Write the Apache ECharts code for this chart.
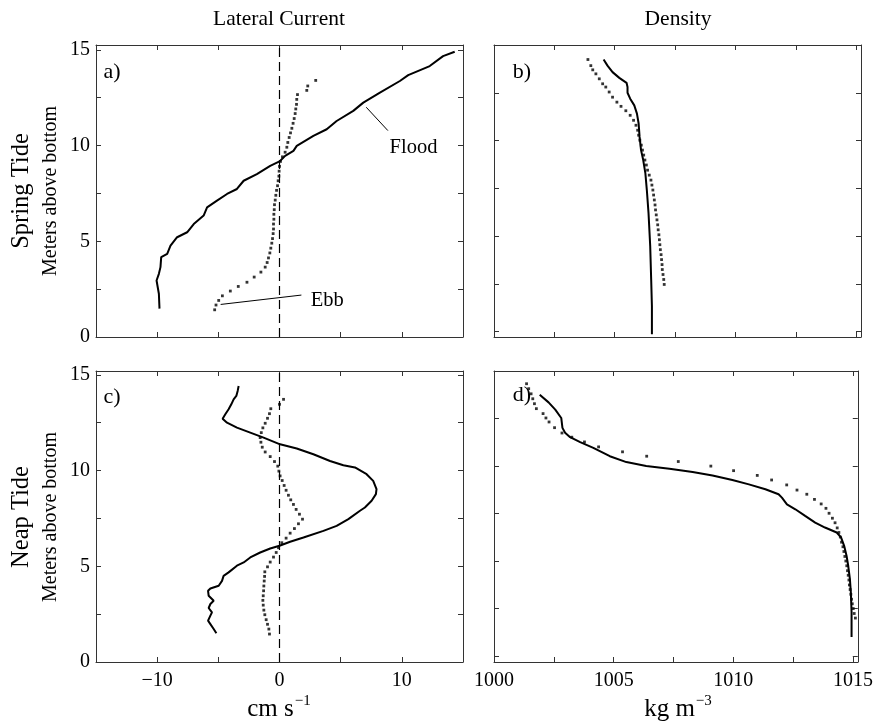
<!DOCTYPE html>
<html>
<head>
<meta charset="utf-8">
<script src="https://cdn.jsdelivr.net/npm/echarts@6/dist/echarts.min.js"></script>
<style>
html,body{margin:0;padding:0;background:#fff;}
#chart{width:876px;height:723px;}
</style>
</head>
<body>
<div id="chart"></div>
<script>
// ---------- DATA ----------
// [lateral current (cm/s), meters above bottom]
const springFlood = [[-9.81,1.48],[-9.86,2.26],[-10.05,2.95],[-9.86,3.30],[-9.73,3.65],[-9.67,4.17],[-9.18,4.34],[-8.91,4.77],[-8.37,5.21],[-7.55,5.47],[-7.01,5.90],[-6.20,6.34],[-5.92,6.77],[-5.11,7.12],[-4.29,7.47],[-3.48,7.73],[-2.93,8.16],[-1.85,8.51],[-0.76,8.94],[0.0,9.17],[0.46,9.46],[1.14,9.72],[1.41,9.98],[2.77,10.50],[3.86,10.85],[4.67,11.28],[6.03,11.81],[6.85,12.24],[8.21,12.76],[9.84,13.37],[10.52,13.68],[12.28,14.15],[13.37,14.67],[14.32,14.90]];
const springEbb = [[-5.30,1.42],[-5.19,1.67],[-4.97,1.91],[-4.67,2.15],[-4.02,2.40],[-3.37,2.64],[-2.66,2.86],[-2.07,3.13],[-1.52,3.39],[-1.17,3.65],[-1.01,3.89],[-0.90,4.13],[-0.79,4.39],[-0.71,4.64],[-0.63,4.90],[-0.57,5.14],[-0.52,5.40],[-0.49,5.64],[-0.49,5.90],[-0.46,6.15],[-0.46,6.41],[-0.43,6.65],[-0.41,6.91],[-0.35,7.15],[-0.30,7.40],[-0.24,7.66],[-0.16,7.90],[-0.11,8.16],[-0.05,8.40],[-0.03,8.66],[0.0,8.91],[0.08,9.17],[0.24,9.41],[0.46,9.65],[0.60,9.91],[0.68,10.16],[0.79,10.42],[0.90,10.66],[1.01,10.90],[1.11,11.16],[1.20,11.41],[1.28,11.67],[1.33,11.91],[1.39,12.15],[1.41,12.41],[1.47,12.66],[2.23,12.88],[2.31,13.11],[2.96,13.40]];
const neapFlood = [[-5.16,1.50],[-5.38,1.72],[-5.65,1.98],[-5.84,2.16],[-5.65,2.42],[-5.52,2.59],[-5.79,2.82],[-5.65,3.03],[-5.38,3.20],[-5.79,3.46],[-5.84,3.72],[-5.65,3.84],[-4.97,3.98],[-4.70,4.24],[-4.57,4.50],[-4.16,4.68],[-3.48,5.03],[-2.93,5.20],[-2.39,5.46],[-1.58,5.72],[-0.76,5.93],[0.0,6.07],[0.87,6.28],[1.96,6.50],[3.59,6.85],[4.67,7.11],[5.63,7.46],[6.58,7.90],[6.98,8.07],[7.53,8.42],[7.88,8.77],[7.93,9.03],[7.66,9.46],[7.12,9.81],[6.17,10.16],[5.22,10.28],[4.13,10.50],[2.77,10.85],[1.41,11.15],[0.05,11.37],[-1.30,11.72],[-2.39,11.98],[-3.48,12.24],[-4.29,12.50],[-4.65,12.71],[-4.43,12.94],[-4.16,13.20],[-3.94,13.46],[-3.75,13.72],[-3.53,13.90],[-3.42,14.16],[-3.34,14.42]];
const neapEbb = [[-0.82,1.46],[-0.87,1.72],[-0.98,1.97],[-1.09,2.21],[-1.20,2.47],[-1.28,2.71],[-1.33,2.97],[-1.36,3.22],[-1.33,3.46],[-1.30,3.72],[-1.28,3.97],[-1.25,4.23],[-1.22,4.47],[-1.20,4.71],[-0.98,4.97],[-0.76,5.22],[-0.49,5.48],[-0.27,5.72],[-0.08,5.97],[0.19,6.23],[0.54,6.47],[0.87,6.73],[1.22,6.97],[1.55,7.22],[1.88,7.46],[1.63,7.72],[1.36,7.97],[1.14,8.23],[0.92,8.47],[0.73,8.71],[0.54,8.97],[0.38,9.22],[0.22,9.48],[0.05,9.72],[-0.05,9.97],[-0.14,10.23],[-0.41,10.47],[-0.76,10.73],[-1.17,10.97],[-1.41,11.22],[-1.52,11.48],[-1.58,11.72],[-1.49,11.98],[-1.36,12.23],[-1.17,12.47],[-0.98,12.73],[-0.82,12.97],[-0.71,13.23],[0.00,13.46],[0.33,13.72]];
// [density (kg/m3), meters above bottom]
const springDenFlood = [[1006.54,-0.14],[1006.54,1.34],[1006.51,2.73],[1006.47,4.46],[1006.40,6.20],[1006.33,7.41],[1006.27,8.28],[1006.18,8.98],[1006.09,9.50],[1006.03,10.19],[1005.99,10.89],[1005.92,11.41],[1005.81,11.84],[1005.64,12.19],[1005.53,12.50],[1005.53,12.80],[1005.49,13.02],[1005.19,13.28],[1004.91,13.58],[1004.70,13.92],[1004.54,14.24]];
const springDenEbb = [[1003.89,14.24],[1004.01,13.92],[1004.09,13.70],[1004.22,13.49],[1004.36,13.23],[1004.50,12.97],[1004.63,12.80],[1004.77,12.54],[1004.91,12.27],[1005.09,12.01],[1005.26,11.79],[1005.46,11.56],[1005.64,11.32],[1005.78,11.06],[1005.88,10.80],[1005.95,10.54],[1005.99,10.28],[1006.04,10.02],[1006.10,9.76],[1006.15,9.50],[1006.20,9.24],[1006.25,8.98],[1006.31,8.72],[1006.36,8.45],[1006.43,8.19],[1006.50,7.93],[1006.54,7.67],[1006.58,7.41],[1006.61,7.15],[1006.64,6.89],[1006.67,6.63],[1006.69,6.37],[1006.72,6.11],[1006.75,5.85],[1006.78,5.59],[1006.80,5.33],[1006.83,5.07],[1006.85,4.81],[1006.87,4.55],[1006.89,4.29],[1006.92,4.03],[1006.94,3.77],[1006.96,3.51],[1006.97,3.25],[1007.00,2.99],[1007.03,2.73],[1007.05,2.47]];
const neapDenFlood = [[1014.94,1.01],[1014.94,2.32],[1014.91,3.37],[1014.87,4.07],[1014.80,4.76],[1014.73,5.29],[1014.63,5.81],[1014.50,6.25],[1014.32,6.51],[1013.83,6.77],[1013.42,7.03],[1013.00,7.38],[1012.59,7.73],[1012.24,7.99],[1012.03,8.34],[1011.89,8.52],[1011.34,8.78],[1010.65,9.04],[1009.96,9.27],[1009.13,9.51],[1008.30,9.69],[1007.33,9.86],[1006.36,10.00],[1005.53,10.21],[1004.84,10.52],[1004.15,10.96],[1003.60,11.26],[1003.18,11.52],[1002.97,11.75],[1002.86,12.01],[1002.81,12.53],[1002.56,12.97],[1002.28,13.35],[1001.91,13.75]];
const neapDenEbb = [[1001.36,14.33],[1001.45,14.07],[1001.55,13.80],[1001.62,13.54],[1001.69,13.28],[1001.77,13.02],[1002.05,12.76],[1002.17,12.53],[1002.30,12.32],[1002.53,12.02],[1002.84,11.74],[1003.25,11.52],[1003.78,11.27],[1004.37,11.01],[1005.37,10.75],[1006.38,10.52],[1007.70,10.24],[1009.06,10.00],[1010.01,9.76],[1011.00,9.51],[1011.60,9.27],[1012.23,9.01],[1012.66,8.74],[1013.07,8.52],[1013.39,8.25],[1013.67,8.01],[1013.87,7.78],[1014.00,7.52],[1014.14,7.26],[1014.25,7.02],[1014.34,6.75],[1014.41,6.51],[1014.47,6.27],[1014.52,6.00],[1014.58,5.76],[1014.62,5.51],[1014.66,5.25],[1014.70,5.01],[1014.74,4.76],[1014.77,4.50],[1014.80,4.26],[1014.83,4.01],[1014.85,3.75],[1014.88,3.51],[1014.91,3.26],[1014.94,3.00],[1014.97,2.76],[1015.01,2.51],[1015.05,2.25],[1015.10,2.01]];

// ticks / labels
const currentTicks = [-15,-10,-5,0,5,10,15];
const currentLabels = [-10,0,10];
const densityTicks = [1000,1002.5,1005,1007.5,1010,1012.5,1015];
const densityLabels = [1000,1005,1010,1015];
const heightTicks = [0,2.5,5,7.5,10,12.5,15];
const heightLabels = [0,5,10,15];

// ---------- LAYOUT ----------
const FONT = 'Liberation Serif';
const grids = [
  {left:96, top:45, width:367, height:292},
  {left:494, top:45, width:367, height:292},
  {left:96, top:371, width:367, height:291},
  {left:494, top:371, width:367, height:291}
];
const ranges = [
  {x:[-15,15], y:[0,15.25], xt:currentTicks, xl:currentLabels, showX:false, showY:true},
  {x:[1000,1015.2], y:[-0.28,15], xt:densityTicks, xl:densityLabels, showX:false, showY:false},
  {x:[-15,15], y:[0,15.2], xt:currentTicks, xl:currentLabels, showX:true, showY:true},
  {x:[1000,1015.2], y:[-0.3,15], xt:densityTicks, xl:densityLabels, showX:true, showY:false}
];
const axisColor = '#333';
const fmt = v => (v < 0 ? '\u2212' + Math.abs(v) : String(v));
const xAxes = [], yAxes = [];
ranges.forEach((r, i) => {
  ['bottom','top'].forEach((pos, k) => {
    xAxes.push({
      type:'value', gridIndex:i, position:pos, min:r.x[0], max:r.x[1],
      axisLine:{show:true, onZero:false, lineStyle:{color:axisColor, width:1}},
      axisTick:{show:true, inside:true, length:5, customValues:r.xt, lineStyle:{color:axisColor}},
      axisLabel:{show:(k===0 && r.showX), customValues:r.xl, formatter:fmt, fontFamily:FONT, fontSize:20, color:'#000', margin:9},
      splitLine:{show:false}
    });
  });
  ['left','right'].forEach((pos, k) => {
    yAxes.push({
      type:'value', gridIndex:i, position:pos, min:r.y[0], max:r.y[1],
      axisLine:{show:true, onZero:false, lineStyle:{color:axisColor, width:1}},
      axisTick:{show:true, inside:true, length:5, customValues:heightTicks, lineStyle:{color:axisColor}},
      axisLabel:{show:(k===0 && r.showY), customValues:heightLabels, formatter:fmt, fontFamily:FONT, fontSize:20, color:'#000', margin:6},
      splitLine:{show:false}
    });
  });
});

function solid(data, gi, extra) {
  return Object.assign({
    type:'line', xAxisIndex:2*gi, yAxisIndex:2*gi, data:data, symbol:'none',
    lineStyle:{color:'#000', width:2}, silent:true, animation:false, z:3
  }, extra || {});
}
function dots(data, gi) {
  return {
    type:'scatter', xAxisIndex:2*gi, yAxisIndex:2*gi, data:data, symbol:'rect', symbolSize:2.8,
    itemStyle:{color:'#000'}, silent:true, animation:false, z:4
  };
}
const zeroLine = {
  silent:true, symbol:'none', animation:false,
  lineStyle:{color:'#000', type:[9,5], width:1.2},
  label:{show:false}, data:[{xAxis:0}]
};
const annoStyle = {color:'#000', width:1, type:'solid'};

const series = [
  solid(springFlood, 0, {
    markLine:{silent:true, symbol:'none', animation:false, label:{show:false},
      data:[
        {xAxis:0, lineStyle:{color:'#000', type:[9,5], width:1.2}},
        [{coord:[7.09,12.0], lineStyle:annoStyle},{coord:[8.86,10.78]}],
        [{coord:[-4.81,1.70], lineStyle:annoStyle},{coord:[1.79,2.19]}]
      ]},
    markPoint:{silent:true, animation:false, symbol:'circle', symbolSize:0,
      label:{show:true, color:'#000', fontFamily:FONT, fontSize:20.5, formatter:p=>p.name},
      data:[{name:'Flood', coord:[10.95,9.9]},{name:'Ebb', coord:[3.9,1.88]}]}
  }),
  dots(springEbb, 0),
  solid(springDenFlood, 1),
  dots(springDenEbb, 1),
  solid(neapFlood, 2, {markLine:zeroLine}),
  dots(neapEbb, 2),
  solid(neapDenFlood, 3),
  dots(neapDenEbb, 3)
];

function txt(text, x, y, size, rot) {
  return {type:'text', x:x, y:y, rotation:rot||0, silent:true,
    style:{text:text, font:size+'px "'+FONT+'"', fill:'#000', align:'center', verticalAlign:'middle'}};
}
function supTxt(base, sup, x, y) {
  return {type:'text', x:x, y:y, silent:true,
    style:{text:'{a|'+base+'}{b|'+sup+'}', align:'center', verticalAlign:'middle', fill:'#000',
      rich:{a:{fontFamily:FONT, fontSize:25, verticalAlign:'bottom', lineHeight:28},
            b:{fontFamily:FONT, fontSize:15, verticalAlign:'top', lineHeight:28, padding:[0,0,0,1]}}}};
}

const graphic = [
  txt('Lateral Current', 279, 19, 21.5),
  txt('Density', 678, 19, 21.5),
  txt('Spring Tide', 22, 191, 24.5, Math.PI/2),
  txt('Meters above bottom', 51, 191, 20, Math.PI/2),
  txt('Neap Tide', 22, 517, 24.5, Math.PI/2),
  txt('Meters above bottom', 51, 517, 20, Math.PI/2),
  txt('a)', 112, 72, 22),
  txt('b)', 522, 72, 22),
  txt('c)', 112, 397, 22),
  txt('d)', 522, 395, 22),
  supTxt('cm s', '\u22121', 279, 708),
  supTxt('kg m', '\u22123', 678, 708)
];

const chart = echarts.init(document.getElementById('chart'), null, {renderer:'canvas'});
chart.setOption({
  animation:false,
  backgroundColor:'#fff',
  grid:grids,
  xAxis:xAxes,
  yAxis:yAxes,
  series:series,
  graphic:graphic
});
</script>
</body>
</html>
